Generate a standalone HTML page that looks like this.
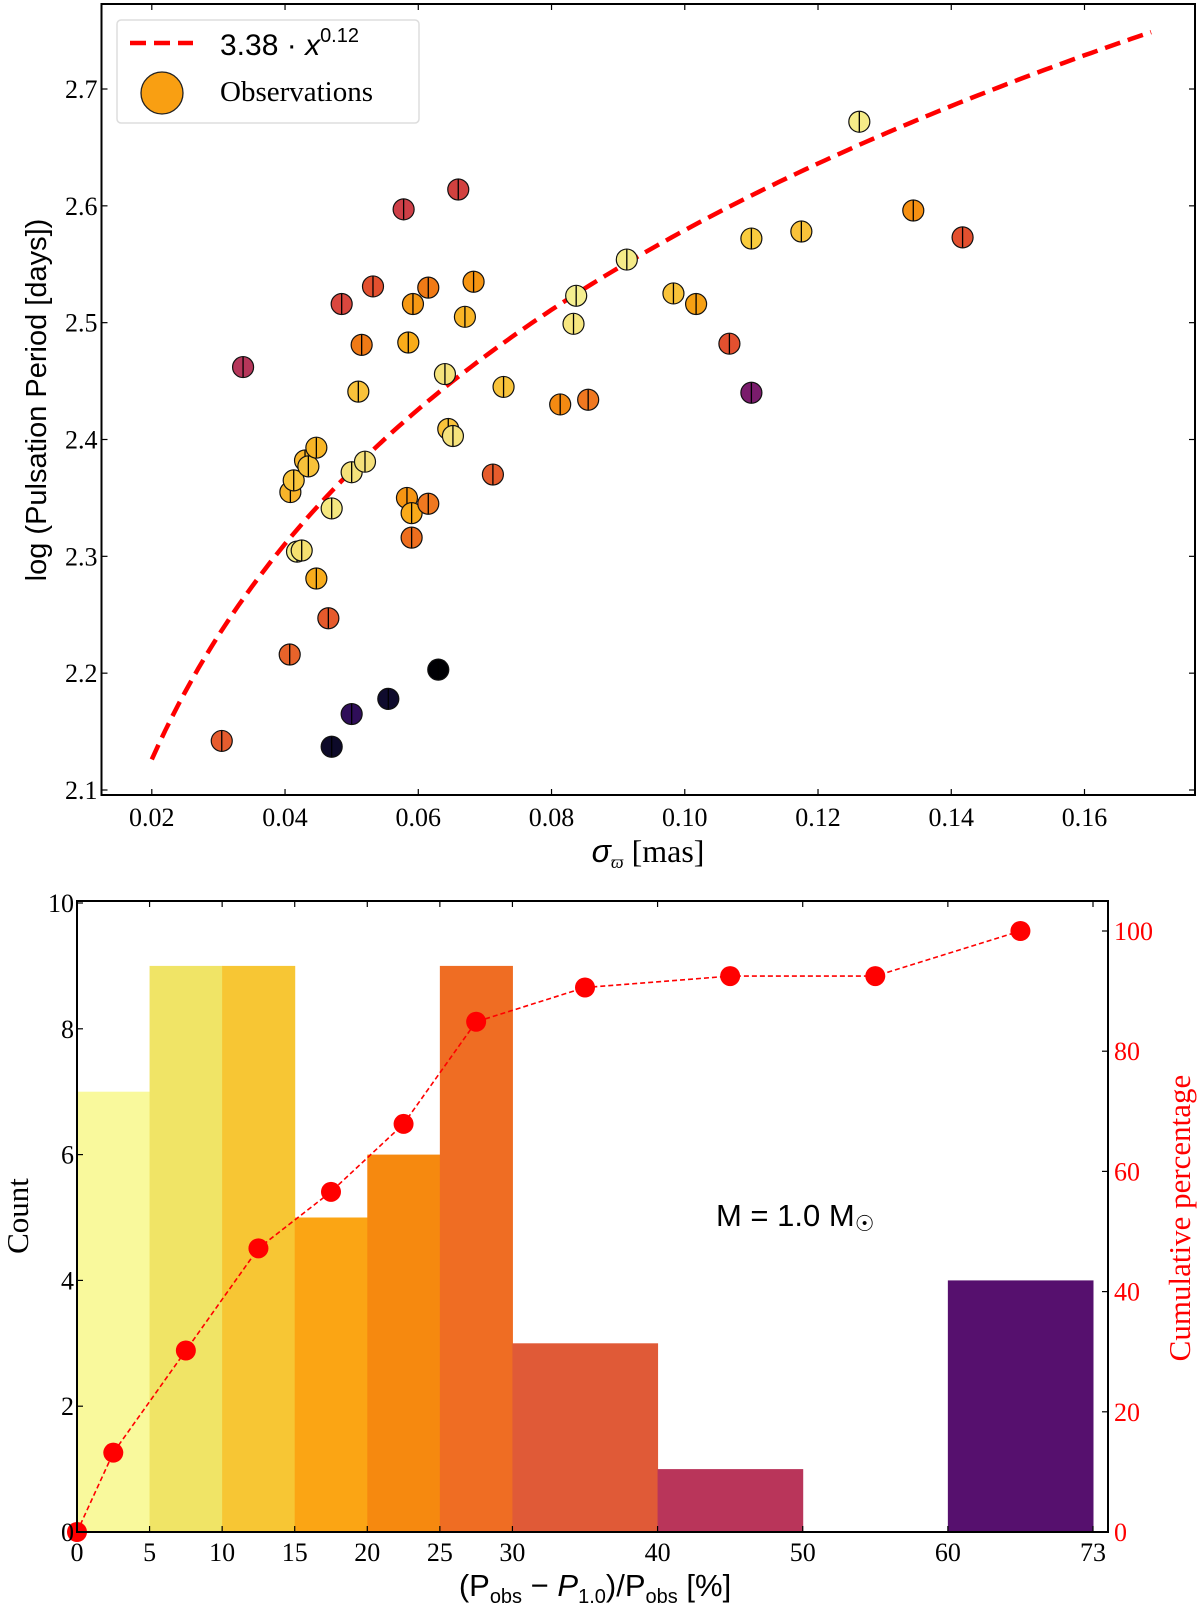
<!DOCTYPE html>
<html><head><meta charset="utf-8"><style>
body{margin:0;background:#fff;}
svg{display:block;}
text{font-family:"Liberation Serif",serif;}
text.sans{font-family:"Liberation Sans",sans-serif;}
</style></head>
<body>
<svg id="fig" width="1200" height="1606" viewBox="0 0 1200 1606" xmlns="http://www.w3.org/2000/svg">
<g id="top"></g>
<g id="bot"></g>
</svg>
<script>
// ---------- top scatter data ----------
const sigmaVals=[0.0337,0.0305,0.0407,0.0408,0.0413,0.0418,0.0425,0.0430,0.0435,0.0447,0.0447,0.0465,0.0470,0.0470,0.0485,0.0500,0.0500,0.0510,0.0515,0.0520,0.0532,0.0555,0.0578,0.0583,0.0585,0.0590,0.0590,0.0592,0.0615,0.0615,0.0630,0.0640,0.0645,0.0652,0.0660,0.0670,0.0683,0.0712,0.0728,0.0813,0.0833,0.0837,0.0855,0.0913,0.0983,0.1017,0.1067,0.1100,0.1100,0.1175,0.1262,0.1343,0.1417];
const logPVals=[2.462,2.142,2.216,2.355,2.365,2.304,2.305,2.382,2.377,2.393,2.281,2.247,2.341,2.137,2.516,2.372,2.165,2.441,2.481,2.381,2.531,2.178,2.597,2.350,2.483,2.337,2.316,2.516,2.530,2.345,2.203,2.456,2.409,2.403,2.614,2.505,2.535,2.370,2.445,2.430,2.499,2.523,2.434,2.554,2.525,2.516,2.482,2.440,2.572,2.578,2.672,2.596,2.573];
const pointColors=['#b5365a','#e65c2e','#e8632a','#f8b42a','#f9c43a','#f5ee8a','#f5e070','#f9b62a','#f8c23a','#f7b526','#f7ac1c','#e55a2c','#f5e880','#0d0a29','#d9473e','#f5e17a','#2f0e59','#f9c23a','#f07a16','#f5e07a','#e3502f','#0f0b2d','#ce3f47','#f69512','#f9ac1a','#f9aa1a','#ee6e1e','#f69914','#f07a16','#f07820','#000004','#f5e37c','#f9c33a','#f5e27c','#d2413f','#f9b526','#f69512','#e65c2c','#f8c33b','#f48a12','#f7e780','#f5ef90','#f07820','#f5eb88','#f9c33a','#f6a013','#e3502f','#7a1c6c','#f9cc3e','#f9c23a','#f5ec88','#f69012','#e3502f'];
const topXTicks=[0.02,0.04,0.06,0.08,0.10,0.12,0.14,0.16];
const topXTickLabels=['0.02','0.04','0.06','0.08','0.10','0.12','0.14','0.16'];
const topYTicks=[2.1,2.2,2.3,2.4,2.5,2.6,2.7];
const topYTickLabels=['2.1','2.2','2.3','2.4','2.5','2.6','2.7'];
const fitCoef=3.40, fitExp=0.12, fitRange=[0.02,0.17];
// ---------- bottom histogram data ----------
const binEdges=[0,5,10,15,20,25,30,40,50,60,70];
const binCounts=[7,9,9,5,6,9,3,1,0,4];
const binColors=['#f9f99c','#f0e466','#f7c634','#fba514','#f6890f','#ef6d23','#e05a37','#b9355a','#ffffff','#56106e'];
const cumX=[0,2.5,7.5,12.5,17.5,22.5,27.5,35,45,55,65];
const cumPct=[0,13.2,30.2,47.2,56.6,67.9,84.9,90.6,92.5,92.5,100];
const botXTicks=[0,5,10,15,20,25,30,40,50,60,70];
const botXTickLabels=['0','5','10','15','20','25','30','40','50','60','73'];
const botYTicks=[0,2,4,6,8,10];
const botYTickLabels=['0','2','4','6','8','10'];
const rightTicks=[0,20,40,60,80,100];
const rightTickLabels=['0','20','40','60','80','100'];

const NS='http://www.w3.org/2000/svg';
function mk(tag,attrs,parent,txt){const e=document.createElementNS(NS,tag);for(const k in attrs)e.setAttribute(k,attrs[k]);if(txt!==undefined)e.textContent=txt;parent.appendChild(e);return e;}

// ---- top panel ----
const T=document.getElementById('top');
const tL=101.5,tR=1195,tT=4,tB=795;
const tx=v=>151.8+(v-0.02)*(1084.5-151.8)/0.14;
const ty=v=>790-(v-2.1)*(790-89)/0.6;
let d='';
for(let i=0;i<=150;i++){const x=fitRange[0]+(fitRange[1]-fitRange[0])*i/150;const y=fitCoef*Math.pow(x,fitExp);d+=(i?'L':'M')+tx(x).toFixed(1)+','+ty(y).toFixed(1);}
let fit=mk('path',{d:d,fill:'none',stroke:'#ff0000','stroke-width':4.5,'stroke-dasharray':'16,8'},T);


sigmaVals.forEach((s,i)=>{
  const g=mk('g',{},T);
  
  
  const cx=tx(s),cy=ty(logPVals[i]);
  mk('circle',{cx:cx,cy:cy,r:10.5,fill:pointColors[i],stroke:'#111','stroke-width':1.2},g);
  mk('line',{x1:cx,y1:cy-10,x2:cx,y2:cy+10,stroke:'#000','stroke-width':1.3},g);
});
let tf=mk('rect',{x:tL,y:tT,width:tR-tL,height:tB-tT,fill:'none',stroke:'#000','stroke-width':2},T);


topXTicks.forEach((v,i)=>{
  const x=tx(v);
  mk('line',{x1:x,y1:tB,x2:x,y2:tB-6,stroke:'#000','stroke-width':1.2},T);
  mk('line',{x1:x,y1:tT,x2:x,y2:tT+6,stroke:'#000','stroke-width':1.2},T);
  const t=mk('text',{x:x,y:tB+31,'text-anchor':'middle','font-size':26},T,topXTickLabels[i]);
  
  
});
topYTicks.forEach((v,i)=>{
  const y=ty(v);
  mk('line',{x1:tL,y1:y,x2:tL+6,y2:y,stroke:'#000','stroke-width':1.2},T);
  mk('line',{x1:tR,y1:y,x2:tR-6,y2:y,stroke:'#000','stroke-width':1.2},T);
  const t=mk('text',{x:tL-4,y:y+9,'text-anchor':'end','font-size':26},T,topYTickLabels[i]);
  
  
});
const lg=mk('g',{},T);


mk('rect',{x:117,y:20,width:302,height:103,rx:4,fill:'#fff',stroke:'#ddd','stroke-width':1.5},lg);
mk('line',{x1:130,y1:43,x2:193,y2:43,stroke:'#ff0000','stroke-width':4.5,'stroke-dasharray':'16,8'},lg);
const lt1=mk('text',{x:220,y:55,'font-size':30,'class':'sans'},lg);


lt1.innerHTML='3.38 · <tspan font-style="italic">x</tspan><tspan font-size="20" dy="-13">0.12</tspan>';
mk('circle',{cx:162,cy:93,r:21,fill:'#f99f12',stroke:'#222','stroke-width':1.3},lg);
const lt2=mk('text',{x:220,y:101,'font-size':29},lg,'Observations');


let xl=mk('text',{x:648,y:862,'text-anchor':'middle','font-size':32},T);


xl.innerHTML='<tspan font-style="italic" style="font-family:Liberation Sans,sans-serif">σ</tspan><tspan font-size="18" dy="6" font-style="italic">ϖ</tspan><tspan dy="-6"> [mas]</tspan>';
let yl=mk('text',{x:0,y:0,'text-anchor':'middle','font-size':29,'class':'sans',transform:'translate(46,400) rotate(-90)'},T,'log (Pulsation Period [days])');



// ---- bottom panel ----
const B=document.getElementById('bot');
const bL=77,bR=1108,bT=901,bB=1532;
const bx=v=>bL+v*(1093-bL)/70;
const by=v=>bB-v*(bB-903)/10;
const ry=v=>bB-v*(bB-931)/100;
binCounts.forEach((c,i)=>{
  if(c<=0)return;
  const r=mk('rect',{x:bx(binEdges[i]),y:by(c),width:bx(binEdges[i+1])-bx(binEdges[i])+0.5,height:bB-by(c),fill:binColors[i]},B);
  
  
});
let cp='';
cumX.forEach((x,i)=>{cp+=(i?'L':'M')+bx(x).toFixed(1)+','+ry(cumPct[i]).toFixed(1);});
let cl=mk('path',{d:cp,fill:'none',stroke:'#ff0000','stroke-width':1.6,'stroke-dasharray':'5,3'},B);


cumX.forEach((x,i)=>{
  const c=mk('circle',{cx:bx(x),cy:ry(cumPct[i]),r:10,fill:'#ff0000'},B);
  
  
});
let bf=mk('rect',{x:bL,y:bT,width:bR-bL,height:bB-bT,fill:'none',stroke:'#000','stroke-width':2},B);


botXTicks.forEach((v,i)=>{
  const x=bx(v);
  mk('line',{x1:x,y1:bB,x2:x,y2:bB-6,stroke:'#000','stroke-width':1.2},B);
  mk('line',{x1:x,y1:bT,x2:x,y2:bT+6,stroke:'#000','stroke-width':1.2},B);
  const t=mk('text',{x:x,y:bB+29,'text-anchor':'middle','font-size':26},B,botXTickLabels[i]);
  
  
});
botYTicks.forEach((v,i)=>{
  const y=by(v);
  mk('line',{x1:bL,y1:y,x2:bL+6,y2:y,stroke:'#000','stroke-width':1.2},B);
  const t=mk('text',{x:bL-3,y:y+9,'text-anchor':'end','font-size':26},B,botYTickLabels[i]);
  
  
});
rightTicks.forEach((v,i)=>{
  const y=ry(v);
  mk('line',{x1:bR,y1:y,x2:bR-6,y2:y,stroke:'#000','stroke-width':1.2},B);
  const t=mk('text',{x:bR+6,y:y+9,'font-size':26,fill:'#ff0000'},B,rightTickLabels[i]);
  
  
});
let ann=mk('text',{x:716,y:1226,'font-size':31,'class':'sans'},B);


ann.innerHTML='M = 1.0 M<tspan font-size="22" dy="5">☉</tspan>';
let bxl=mk('text',{x:595,y:1596,'text-anchor':'middle','font-size':31,'class':'sans'},B);


bxl.innerHTML='(P<tspan font-size="20" dy="7">obs</tspan><tspan dy="-7"> − </tspan><tspan font-style="italic">P</tspan><tspan font-size="20" dy="7">1.0</tspan><tspan dy="-7">)/P</tspan><tspan font-size="20" dy="7">obs</tspan><tspan dy="-7"> [%]</tspan>';
let byl=mk('text',{x:0,y:0,'text-anchor':'middle','font-size':31,transform:'translate(28,1216) rotate(-90)'},B,'Count');


let ryl=mk('text',{x:0,y:0,'text-anchor':'middle','font-size':31,fill:'#ff0000',transform:'translate(1190,1218) rotate(-90)'},B,'Cumulative percentage');


</script>
</body></html>
